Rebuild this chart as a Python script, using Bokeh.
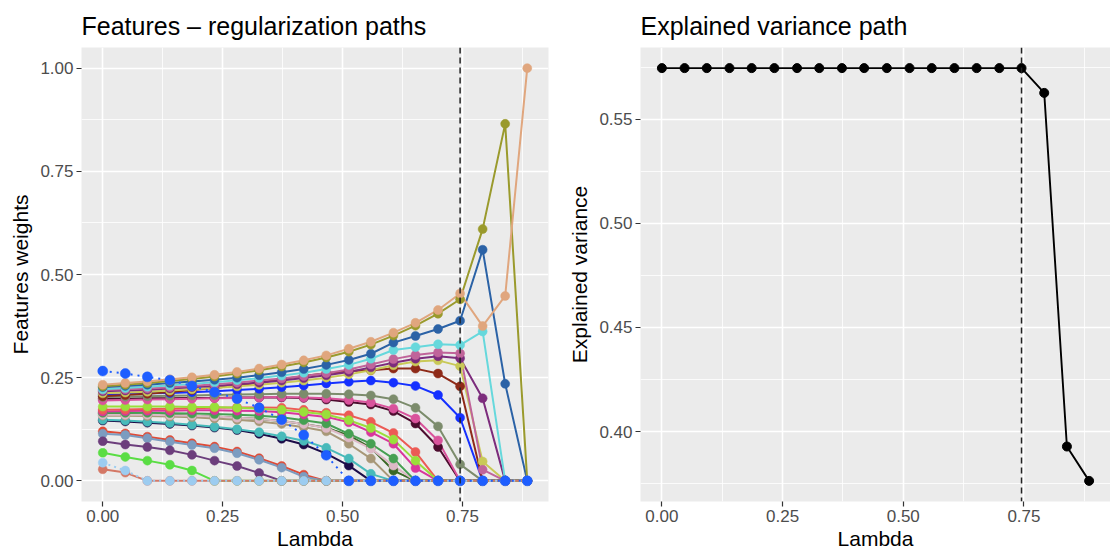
from bokeh.plotting import figure
from bokeh.layouts import row
from bokeh.models import FixedTicker, Span, NumeralTickFormatter, Range1d
from bokeh.embed import file_html
from bokeh.resources import INLINE

# ---------------- data ----------------
lambdas = [0.000, 0.047, 0.093, 0.140, 0.186, 0.233, 0.280, 0.326, 0.373, 0.419,
           0.466, 0.513, 0.559, 0.606, 0.652, 0.699, 0.745, 0.792, 0.839, 0.885]
lambda_opt = 0.745

explained_variance = [0.5745, 0.5745, 0.5745, 0.5745, 0.5745, 0.5745, 0.5745, 0.5745, 0.5745, 0.5745,
                      0.5745, 0.5745, 0.5745, 0.5745, 0.5745, 0.5745, 0.5745, 0.5626, 0.3928, 0.3763]

w_navy = [0.146, 0.144, 0.141, 0.138, 0.134, 0.129, 0.123, 0.114, 0.102, 0.088, 0.066, 0.037, 0.0, 0.0, 0.0, 0.0, 0.0, 0.0, 0.0, 0.0]
w_teal = [0.148, 0.146, 0.143, 0.140, 0.136, 0.131, 0.125, 0.118, 0.108, 0.097, 0.080, 0.054, 0.017, 0.0, 0.0, 0.0, 0.0, 0.0, 0.0, 0.0]
w_darkgreen = [0.163, 0.162, 0.161, 0.160, 0.158, 0.156, 0.153, 0.150, 0.145, 0.138, 0.129, 0.110, 0.080, 0.025, 0.0, 0.0, 0.0, 0.0, 0.0, 0.0]
w_tangray = [0.158, 0.158, 0.157, 0.156, 0.154, 0.151, 0.148, 0.144, 0.138, 0.130, 0.120, 0.090, 0.054, 0.0, 0.0, 0.0, 0.0, 0.0, 0.0, 0.0]
w_lightpink = [0.160, 0.160, 0.160, 0.159, 0.158, 0.156, 0.153, 0.150, 0.145, 0.138, 0.128, 0.105, 0.078, 0.037, 0.0, 0.0, 0.0, 0.0, 0.0, 0.0]
w_green = [0.165, 0.165, 0.165, 0.164, 0.163, 0.162, 0.160, 0.158, 0.154, 0.147, 0.139, 0.114, 0.090, 0.054, 0.0, 0.0, 0.0, 0.0, 0.0, 0.0]
w_magenta = [0.168, 0.169, 0.170, 0.170, 0.171, 0.171, 0.170, 0.169, 0.166, 0.161, 0.155, 0.142, 0.118, 0.090, 0.031, 0.0, 0.0, 0.0, 0.0, 0.0]
w_salmonred = [0.172, 0.173, 0.174, 0.175, 0.176, 0.177, 0.178, 0.178, 0.177, 0.172, 0.165, 0.159, 0.143, 0.116, 0.070, 0.0, 0.0, 0.0, 0.0, 0.0]
w_lightgreen = [0.180, 0.180, 0.180, 0.180, 0.179, 0.179, 0.177, 0.175, 0.172, 0.167, 0.161, 0.147, 0.128, 0.100, 0.049, 0.0, 0.0, 0.0, 0.0, 0.0]
w_maroon = [0.199, 0.199, 0.200, 0.200, 0.201, 0.201, 0.202, 0.202, 0.202, 0.201, 0.197, 0.191, 0.185, 0.169, 0.139, 0.082, 0.0, 0.0, 0.0, 0.0]
w_magpink = [0.195, 0.196, 0.197, 0.198, 0.199, 0.200, 0.201, 0.202, 0.203, 0.202, 0.200, 0.196, 0.190, 0.175, 0.151, 0.098, 0.0, 0.0, 0.0, 0.0]
w_graygreen = [0.203, 0.204, 0.205, 0.206, 0.207, 0.208, 0.209, 0.210, 0.211, 0.211, 0.211, 0.210, 0.207, 0.198, 0.177, 0.132, 0.040, 0.0, 0.0, 0.0]
w_blue = [0.209, 0.210, 0.212, 0.213, 0.215, 0.217, 0.220, 0.223, 0.227, 0.231, 0.236, 0.240, 0.243, 0.238, 0.230, 0.208, 0.153, 0.0, 0.0, 0.0]
w_darkred = [0.205, 0.208, 0.211, 0.215, 0.220, 0.225, 0.231, 0.238, 0.246, 0.254, 0.261, 0.266, 0.268, 0.272, 0.272, 0.260, 0.229, 0.0, 0.0, 0.0]
w_yellow = [0.212, 0.214, 0.216, 0.219, 0.222, 0.225, 0.229, 0.233, 0.238, 0.243, 0.250, 0.258, 0.268, 0.280, 0.289, 0.292, 0.278, 0.047, 0.0, 0.0]
w_purple = [0.217, 0.219, 0.221, 0.224, 0.227, 0.230, 0.234, 0.238, 0.243, 0.249, 0.256, 0.264, 0.275, 0.286, 0.296, 0.302, 0.297, 0.200, 0.0, 0.0]
w_mauve = [0.220, 0.222, 0.224, 0.227, 0.230, 0.234, 0.238, 0.243, 0.248, 0.254, 0.261, 0.270, 0.282, 0.295, 0.305, 0.311, 0.309, 0.027, 0.0, 0.0]
w_cyan = [0.222, 0.225, 0.228, 0.231, 0.235, 0.239, 0.244, 0.249, 0.255, 0.262, 0.271, 0.281, 0.296, 0.317, 0.324, 0.331, 0.329, 0.362, 0.0, 0.0]
w_darkblue = [0.227, 0.230, 0.233, 0.237, 0.241, 0.245, 0.250, 0.256, 0.263, 0.271, 0.281, 0.293, 0.308, 0.335, 0.351, 0.368, 0.388, 0.560, 0.235, 0.0]
w_olive = [0.229, 0.233, 0.237, 0.242, 0.247, 0.253, 0.260, 0.268, 0.277, 0.287, 0.299, 0.313, 0.330, 0.352, 0.376, 0.405, 0.440, 0.610, 0.865, 0.0]
w_tan = [0.233, 0.237, 0.241, 0.246, 0.251, 0.257, 0.264, 0.272, 0.282, 0.292, 0.304, 0.320, 0.337, 0.359, 0.383, 0.414, 0.454, 0.375, 0.448, 1.000]
w_red = [0.120, 0.115, 0.107, 0.099, 0.091, 0.083, 0.071, 0.055, 0.036, 0.015, 0.0, 0.0, 0.0, 0.0, 0.0, 0.0, 0.0, 0.0, 0.0, 0.0]
w_steel = [0.114, 0.111, 0.103, 0.095, 0.087, 0.079, 0.067, 0.051, 0.032, 0.010, 0.0, 0.0, 0.0, 0.0, 0.0, 0.0, 0.0, 0.0, 0.0, 0.0]
w_purple2 = [0.096, 0.088, 0.082, 0.074, 0.063, 0.049, 0.036, 0.019, 0.0, 0.0, 0.0, 0.0, 0.0, 0.0, 0.0, 0.0, 0.0, 0.0, 0.0, 0.0]
w_green2 = [0.068, 0.058, 0.049, 0.039, 0.025, 0.0, 0.0, 0.0, 0.0, 0.0, 0.0, 0.0, 0.0, 0.0, 0.0, 0.0, 0.0, 0.0, 0.0, 0.0]
w_salmon = [0.028, 0.020, 0.0, 0.0, 0.0, 0.0, 0.0, 0.0, 0.0, 0.0, 0.0, 0.0, 0.0, 0.0, 0.0, 0.0, 0.0, 0.0, 0.0, 0.0]
w_lightblue = [0.044, 0.025, 0.0, 0.0, 0.0, 0.0, 0.0, 0.0, 0.0, 0.0, 0.0, 0.0, 0.0, 0.0, 0.0, 0.0, 0.0, 0.0, 0.0, 0.0]
w_brightblue = [0.266, 0.260, 0.252, 0.244, 0.230, 0.215, 0.199, 0.177, 0.148, 0.111, 0.062, 0.0, 0.0, 0.0, 0.0, 0.0, 0.0, 0.0, 0.0, 0.0]

# feature series in drawing order, with their styles
series = [
    (w_navy, "#1C0C48", "solid"),
    (w_teal, "#48BABA", "solid"),
    (w_darkgreen, "#3A6826", "solid"),
    (w_tangray, "#A89878", "solid"),
    (w_lightpink, "#DDB9C6", "solid"),
    (w_green, "#46A052", "solid"),
    (w_magenta, "#D9369C", "solid"),
    (w_salmonred, "#EC5B55", "solid"),
    (w_lightgreen, "#9ADF3A", "solid"),
    (w_maroon, "#4C0C2E", "solid"),
    (w_magpink, "#D9539C", "solid"),
    (w_graygreen, "#7C8C6C", "solid"),
    (w_blue, "#1530FF", "solid"),
    (w_darkred, "#8E2A18", "solid"),
    (w_yellow, "#C9C957", "solid"),
    (w_purple, "#7C2C7C", "solid"),
    (w_mauve, "#C0649A", "solid"),
    (w_cyan, "#66D8DC", "solid"),
    (w_darkblue, "#2B62A6", "solid"),
    (w_olive, "#9A9A2C", "solid"),
    (w_tan, "#E0A67E", "solid"),
    (w_red, "#E04A35", "solid"),
    (w_steel, "#7C9CC0", "solid"),
    (w_purple2, "#6C3E7C", "solid"),
    (w_green2, "#5ADD44", "solid"),
    (w_salmon, "#D47866", "solid"),
    (w_lightblue, "#9CCCF0", "2 4"),
    (w_brightblue, "#1E5EFF", "2 5"),
]

FONT = "Liberation Sans"
PANEL_BG = "#EBEBEB"


def style(p, xlabel, ylabel, yticks, yminor):
    p.background_fill_color = PANEL_BG
    p.border_fill_color = "white"
    p.outline_line_color = None
    p.title.text_font = FONT
    p.title.text_font_size = "25px"
    p.title.text_font_style = "normal"
    p.title.text_color = "black"
    p.title.align = "left"
    p.title.standoff = 15
    p.xaxis.ticker = FixedTicker(ticks=[0.0, 0.25, 0.5, 0.75], minor_ticks=[0.125, 0.375, 0.625, 0.875])
    p.yaxis.ticker = FixedTicker(ticks=yticks, minor_ticks=yminor)
    p.xaxis.formatter = NumeralTickFormatter(format="0.00")
    p.yaxis.formatter = NumeralTickFormatter(format="0.00")
    for ax in (p.xaxis[0], p.yaxis[0]):
        ax.axis_line_color = None
        ax.major_tick_line_color = "#333333"
        ax.major_tick_line_width = 1.2
        ax.major_tick_out = 5
        ax.major_tick_in = 0
        ax.minor_tick_line_color = None
        ax.major_label_text_font = FONT
        ax.major_label_text_font_size = "17px"
        ax.major_label_text_color = "#4D4D4D"
        ax.major_label_standoff = 3
        ax.axis_label_text_font = FONT
        ax.axis_label_text_font_size = "21px"
        ax.axis_label_text_font_style = "normal"
        ax.axis_label_text_color = "black"
    p.xaxis.axis_label = xlabel
    p.yaxis.axis_label = ylabel
    p.xaxis.axis_label_standoff = 2
    p.yaxis.axis_label_standoff = 5
    for g in (p.xgrid[0], p.ygrid[0]):
        g.grid_line_color = "white"
        g.grid_line_width = 1.6
        g.minor_grid_line_color = "white"
        g.minor_grid_line_width = 0.8


# ---------------- left panel ----------------
p1 = figure(width=560, height=552, output_backend="svg", toolbar_location=None,
            title="Features \u2013 regularization paths",
            x_range=Range1d(-0.0443, 0.9293), y_range=Range1d(-0.05, 1.05),
            min_border_left=81, min_border_right=12, min_border_top=47, min_border_bottom=50)
style(p1, "Lambda", "Features weights", [0.0, 0.25, 0.5, 0.75, 1.0], [0.125, 0.375, 0.625, 0.875])

for vals, col, dash in series:
    p1.line(lambdas, vals, line_color=col, line_width=2.0, line_dash=dash)
for vals, col, dash in series:
    sz = 10 if col == "#1E5EFF" else 9
    p1.scatter(lambdas, vals, size=sz, fill_color=col, line_color=col, line_width=0.5)

p1.add_layout(Span(location=lambda_opt, dimension="height", line_color="#222222",
                   line_width=1.5, line_dash="6 4"))

# ---------------- right panel ----------------
p2 = figure(width=550, height=552, output_backend="svg", toolbar_location=None,
            title="Explained variance path",
            x_range=Range1d(-0.0443, 0.9293), y_range=Range1d(0.3664, 0.5844),
            min_border_left=80, min_border_right=0, min_border_top=47, min_border_bottom=50)
style(p2, "Lambda", "Explained variance", [0.40, 0.45, 0.50, 0.55], [0.375, 0.425, 0.475, 0.525, 0.575])

p2.line(lambdas, explained_variance, line_color="black", line_width=1.9)
p2.scatter(lambdas, explained_variance, size=9, fill_color="black", line_color="black")
p2.add_layout(Span(location=lambda_opt, dimension="height", line_color="#222222",
                   line_width=1.5, line_dash="6 4"))

layout = row(p1, p2)
open("out.html", "w").write(file_html(layout, INLINE))
